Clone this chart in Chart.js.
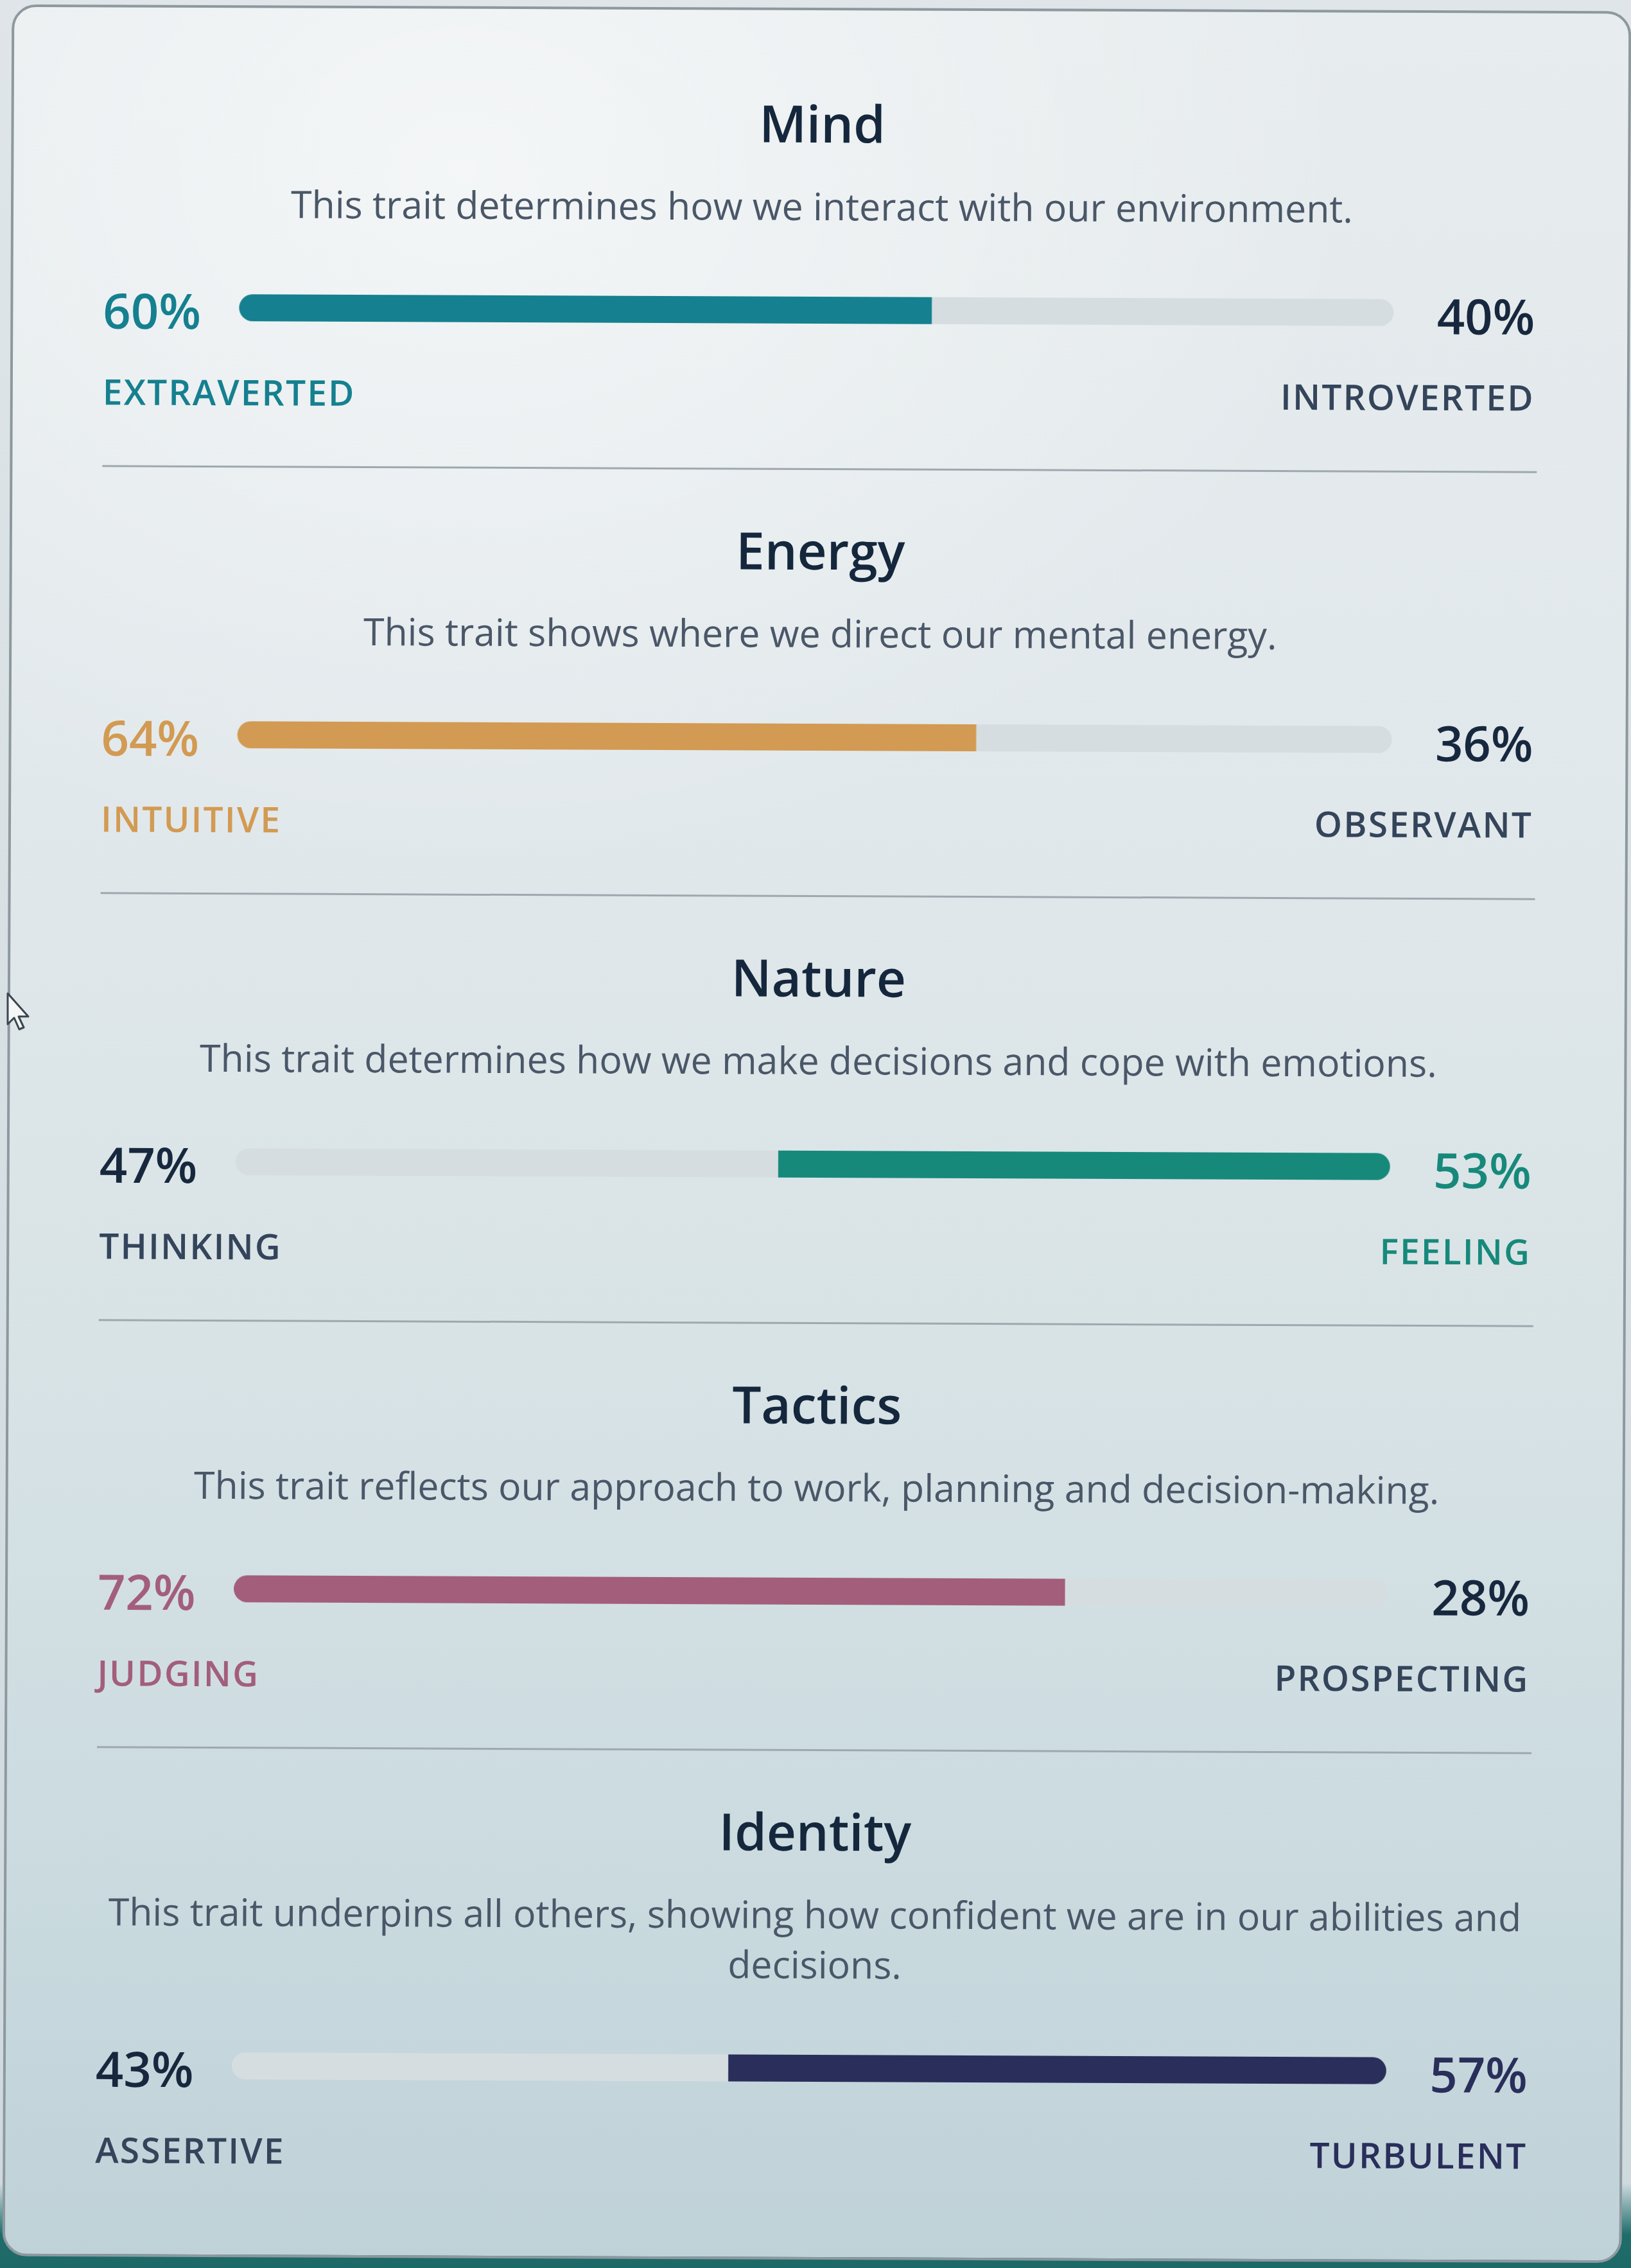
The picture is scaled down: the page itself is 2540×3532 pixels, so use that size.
<!DOCTYPE html>
<html>
<head>
<meta charset="utf-8">
<script src="https://cdn.jsdelivr.net/npm/chart.js@4/dist/chart.umd.min.js"></script>
<style>
  html, body { margin: 0; padding: 0; }
  body {
    width: 2540px; height: 3532px; overflow: hidden; position: relative;
    background: linear-gradient(180deg, #dfe5e8 0px, #cfdadf 3400px, #1f6d6b 3480px, #1d6968 3532px);
    font-family: "Open Sans", "Noto Sans", sans-serif;
  }
  #card {
    position: absolute; left: 11px; top: 12px; width: 2522px; height: 3507px;
    box-sizing: border-box; border: 4px solid #8d989f; border-radius: 38px;
    background:
      radial-gradient(ellipse 1400px 1100px at 700px 250px, rgba(255,255,255,0.55), rgba(255,255,255,0) 100%),
      linear-gradient(180deg, #e7ecee 0%, #e1e8eb 35%, #d8e3e6 60%, #cbdbe0 82%, #bfd2d8 100%);
    transform: rotate(0.24deg); transform-origin: 1259px 1754px;
    overflow: hidden;
  }
  .abs { position: absolute; white-space: nowrap; }
  .title { font-weight: 600; font-size: 80px; color: #15273c; transform: translate(-50%, -50%); line-height: 1.2; }
  .desc { font-weight: 400; font-size: 59px; color: #4a5768; width: 2400px; line-height: 78px; text-align: center; white-space: pre; }
  .pct { font-weight: 600; font-size: 76px; line-height: 1.2; transform: translateY(-50%); }
  .lab { font-weight: 600; font-size: 55px; line-height: 1.2; letter-spacing: 2.2px; transform: translateY(-50%); }
  .right { transform: translate(-100%, -50%); }
  .divider { height: 3px; background: #9ea8af; }
  .barbox { position: absolute; }
</style>
</head>
<body>
<div id="card"></div>
<svg style="position:absolute;left:6px;top:1543px" width="48" height="70" viewBox="0 0 48 70">
  <path d="M6 4 L6 52 L16 42 L24 60 L31 57 L23 40 L38 40 Z" fill="#f4f6f7" stroke="#3b4650" stroke-width="3" stroke-linejoin="round"/>
</svg>
<script>
// ---------- data ----------
const traits = ['Mind', 'Energy', 'Nature', 'Tactics', 'Identity'];
const descriptions = [
  'This trait determines how we interact with our environment.',
  'This trait shows where we direct our mental energy.',
  'This trait determines how we make decisions and cope with emotions.',
  'This trait reflects our approach to work, planning and decision-making.',
  'This trait underpins all others, showing how confident we are in our abilities and\ndecisions.'
];
const leftLabels = ['EXTRAVERTED', 'INTUITIVE', 'THINKING', 'JUDGING', 'ASSERTIVE'];
const rightLabels = ['INTROVERTED', 'OBSERVANT', 'FEELING', 'PROSPECTING', 'TURBULENT'];
const leftValues = [60, 64, 47, 72, 43];
const rightValues = [40, 36, 53, 28, 57];

// ---------- styles ----------
const traitColors = ['#15808f', '#d29a52', '#17897b', '#a35e7c', '#2a2e5b'];
const trackColor = '#d6dde1';
const darkPct = '#17283e';
const darkLabel = '#34445a';

// ---------- layout ----------
const card = document.getElementById('card');
const firstTitleY = 175, sectionStep = 665;
const leftX = 140, rightX = 2370, barLeft = 352, barRight = 2150;
const centerX = 1259;

function el(cls, text, x, y, color) {
  const d = document.createElement('div');
  d.className = 'abs ' + cls;
  d.textContent = text;
  d.style.left = x + 'px';
  d.style.top = y + 'px';
  if (color) d.style.color = color;
  card.appendChild(d);
  return d;
}

traits.forEach((name, i) => {
  const y0 = firstTitleY + i * sectionStep;
  const extra = (descriptions[i].split('\n').length - 1) * 78;
  const leftDom = leftValues[i] >= rightValues[i];
  const col = traitColors[i];

  el('title', name, centerX, y0);
  el('desc', descriptions[i], centerX - 1200, y0 + 90);

  const barY = y0 + 292 + extra;
  el('pct', leftValues[i] + '%', leftX, barY + 4, leftDom ? col : darkPct);
  el('pct right', rightValues[i] + '%', rightX, barY + 4, leftDom ? darkPct : col);
  el('lab', leftLabels[i], leftX, barY + 131, leftDom ? col : darkLabel);
  el('lab right', rightLabels[i], rightX, barY + 131, leftDom ? darkLabel : col);

  if (i < traits.length - 1) {
    const dv = document.createElement('div');
    dv.className = 'abs divider';
    dv.style.left = leftX + 'px';
    dv.style.top = (y0 + 538) + 'px';
    dv.style.width = (rightX - leftX + 4) + 'px';
    card.appendChild(dv);
  }

  const box = document.createElement('div');
  box.className = 'barbox';
  box.style.left = barLeft + 'px';
  box.style.top = (barY - 35) + 'px';
  box.style.width = (barRight - barLeft) + 'px';
  box.style.height = '70px';
  const cv = document.createElement('canvas');
  box.appendChild(cv);
  card.appendChild(box);

  const r = 21;
  new Chart(cv, {
    type: 'bar',
    data: {
      labels: [name],
      datasets: [
        {
          data: [leftValues[i]],
          backgroundColor: leftDom ? col : trackColor,
          borderRadius: { topLeft: r, bottomLeft: r, topRight: 0, bottomRight: 0 },
          borderSkipped: false,
          barThickness: 42,
          inflateAmount: 0
        },
        {
          data: [rightValues[i]],
          backgroundColor: leftDom ? trackColor : col,
          borderRadius: { topLeft: 0, bottomLeft: 0, topRight: r, bottomRight: r },
          borderSkipped: false,
          barThickness: 42,
          inflateAmount: 0
        }
      ]
    },
    options: {
      indexAxis: 'y',
      responsive: true,
      maintainAspectRatio: false,
      animation: false,
      layout: { padding: 0 },
      plugins: { legend: { display: false }, tooltip: { enabled: false } },
      scales: {
        x: { stacked: true, min: 0, max: 100, display: false },
        y: { stacked: true, display: false }
      }
    }
  });
});
</script>
</body>
</html>
